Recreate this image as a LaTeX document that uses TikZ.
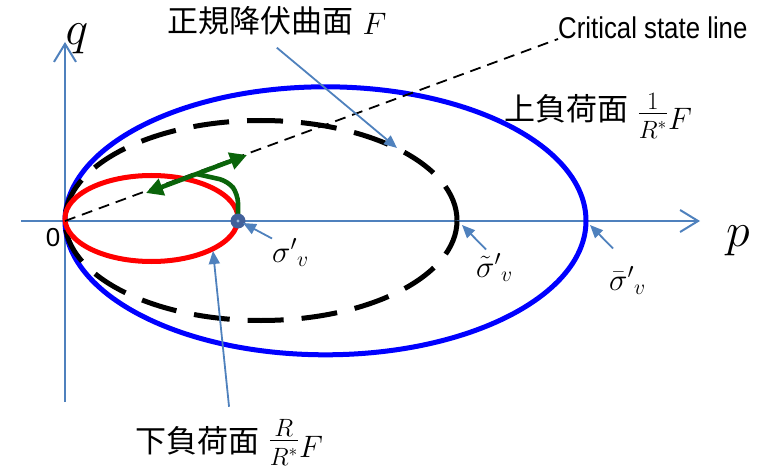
\documentclass[tikz,border=0pt]{standalone}
\usepackage{fix-cm}
\usepackage{amsmath}
\usepackage{fontspec}
\usepackage{graphicx}
\usepackage{tikz}
\usetikzlibrary{arrows.meta}
\newfontfamily\jpfont{Noto Sans CJK JP}
\newfontfamily\arialfont{Liberation Sans}
\newcommand{\fracpart}[1]{\mbox{\fontsize{25}{30}\selectfont$#1$}}
\newcommand{\loadfrac}[2]{\raisebox{8.75pt}{$\frac{\fracpart{#1}}{\fracpart{#2}\rule{0pt}{24pt}}$}}
\definecolor{axisblue}{HTML}{4F81BD}
\definecolor{dotblue}{HTML}{41609A}
\definecolor{loadgreen}{HTML}{0A640A}
\definecolor{upblue}{HTML}{0000FF}
\definecolor{subred}{HTML}{FF0000}

\begin{document}
\begin{tikzpicture}[x=1pt,y=-1pt,font=\fontsize{31}{37}\selectfont,
  axis/.style={axisblue,line width=2pt,-{Straight Barb[length=18pt,width=22pt]}},
  pointer/.style={axisblue,line width=1.8pt,-{Triangle[length=13pt,width=11pt]}},
  surface/.style={line width=5pt},
  load/.style={loadgreen,line width=4.6pt},
  lbl/.style={inner sep=0pt,anchor=base west}]
  \useasboundingbox (0,0) rectangle (763,468);
  \coordinate (O) at (65,221);
  \coordinate (P) at (238,221);
  \draw[axis] (21,221) -- (700,221);
  \draw[axis] (65,402) -- (65,42);
  \draw[surface,upblue] (325.5,220.8) ellipse [x radius=260.5,y radius=134];
  \draw[surface,black,dash pattern=on 36pt off 18pt] (261,220.5) ellipse [x radius=196,y radius=100];
  \draw[surface,subred] (151.5,218.5) ellipse [x radius=86.5,y radius=43];
  \node[lbl,font=\arialfont\fontsize{30}{36}\selectfont] (lblcsl) at (558,39) {\scalebox{0.86}[1]{Critical state line}};
  \draw[black,line width=1.8pt,dash pattern=on 11pt off 7pt] (O) -- (lblcsl.base west);
  \coordinate (dl) at (146,193);
  \coordinate (dr) at (247,155);
  \coordinate (mid) at (196.5,174);
  \draw[load,{Triangle[length=17pt,width=17pt]}-{Triangle[length=17pt,width=17pt]}] (dl) -- (dr);
  \draw[load,rounded corners=9pt] (P) -- (238,194) -- (228,181) -- (mid);
  \node[circle,fill=dotblue,minimum size=15pt,inner sep=0pt] (sv) at (P) {};
  \fill[axisblue!55] (sv.center) circle (1.6);
  \node[lbl] (lblF) at (167,35) {{\jpfont\raisebox{2pt}{正規降伏曲面}} $F$};
  \node[lbl] (lblup) at (504,130) {{\jpfont\raisebox{9pt}{上負荷面}} \loadfrac{1}{R^*}$F$};
  \node[lbl] (lbllow) at (135,457) {{\jpfont\raisebox{5pt}{下負荷面}} \loadfrac{R}{R^*}$F$};
  \node[lbl] (lblsv) at (272,262) {$\sigma'{}_{v}$};
  \node[lbl] (lblst) at (476,277) {$\tilde{\sigma}'{}_{v}$};
  \node[lbl] (lblsb) at (609,290) {$\bar{\sigma}'{}_{v}$};
  \node[inner sep=0pt,anchor=base,font=\fontsize{48}{56}\selectfont] (lblq) at (77,45) {$q$};
  \node[inner sep=0pt,anchor=base,font=\fontsize{48}{56}\selectfont] (lblp) at (738,246) {$p$};
  \node[inner sep=0pt,font=\arialfont\fontsize{26}{30}\selectfont] (lblO) at (53,237.5) {0};
  \coordinate (onF) at (397,148);
  \coordinate (onsv) at (243,223);
  \coordinate (onst) at (462,225);
  \coordinate (onsb) at (590,225);
  \coordinate (onR) at (213,251);
  \draw[pointer] ([yshift=-12pt]lblF.south) -- (onF);
  \draw[pointer] (lblsv.north west) -- (onsv);
  \draw[pointer] ([shift={(10pt,4pt)}]lblst.north west) -- (onst);
  \draw[pointer] ([shift={(4pt,18pt)}]lblsb.north west) -- (onsb);
  \draw[pointer] ([yshift=12pt]lbllow.north) -- (onR);
\end{tikzpicture}
\end{document}
